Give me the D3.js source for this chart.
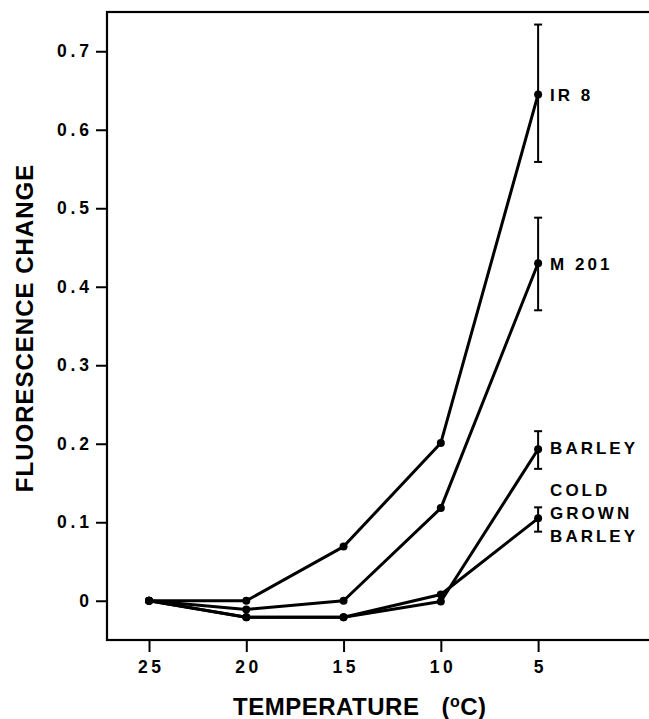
<!DOCTYPE html>
<html>
<head>
<meta charset="utf-8">
<script src="https://cdn.jsdelivr.net/npm/d3@7"></script>
<style>
  body { margin: 0; background: #fff; }
  svg { display: block; }
  text { font-family: "Liberation Sans", Arial, sans-serif; font-weight: bold; fill: #000; }
</style>
</head>
<body>
<svg id="chart" width="649" height="719"></svg>
<script>
/******************************************************************************/
/* data */

var temps = [25, 20, 15, 10, 5];
var xTicks = [25, 20, 15, 10, 5];
var yTicks = [0, 0.1, 0.2, 0.3, 0.4, 0.5, 0.6, 0.7];

var seriesNames = ['IR 8', 'M 201', 'BARLEY', 'COLD GROWN BARLEY'];
var ir8 = [0, 0, 0.069, 0.201, 0.645];
var m201 = [0, -0.011, 0, 0.118, 0.430];
var barley = [0, -0.021, -0.021, -0.001, 0.193];
var coldBarley = [0, -0.021, -0.021, 0.008, 0.105];

// error bars at 5 C: [low, high]
var errLow = [0.559, 0.370, 0.168, 0.088];
var errHigh = [0.734, 0.488, 0.216, 0.119];

// label lines next to the last point
var labelLines = [['IR 8'], ['M 201'], ['BARLEY'], ['COLD', 'GROWN', 'BARLEY']];

/******************************************************************************/

var svg = d3.select('#chart');
var pLeft = 107, pRight = 649, pTop = 12, pBottom = 640;

var x = d3.scaleLinear().domain([27.16, -0.7]).range([pLeft, pRight]);
var y = d3.scaleLinear().domain([-0.05, 0.75]).range([pBottom, pTop]);

var series = [ir8, m201, barley, coldBarley];

// frame
svg.append('rect')
  .attr('x', pLeft).attr('y', pTop)
  .attr('width', pRight - pLeft + 4).attr('height', pBottom - pTop)
  .style('fill', 'none').style('stroke', '#000').style('stroke-width', 2.2);

// y axis ticks
var yAxis = d3.axisLeft(y).tickValues(yTicks).tickSize(11).tickPadding(7)
  .tickFormat(function(d){ return d === 0 ? '0' : d3.format('.1f')(d); });
var gy = svg.append('g').attr('transform', 'translate(' + pLeft + ',0)').call(yAxis);
gy.select('.domain').remove();
gy.selectAll('line').style('stroke', '#000').style('stroke-width', 2);
gy.selectAll('text').style('font-size', '17.5px').style('letter-spacing', '3.8px')
  .attr('dx', '3.8px').style('font-family', '"Liberation Sans", Arial, sans-serif')
  .style('font-weight', 'bold');

// x axis ticks
var xAxis = d3.axisBottom(x).tickValues(xTicks).tickSize(12).tickPadding(9);
var gx = svg.append('g').attr('transform', 'translate(0,' + pBottom + ')').call(xAxis);
gx.select('.domain').remove();
gx.selectAll('line').style('stroke', '#000').style('stroke-width', 2);
gx.selectAll('text').style('font-size', '17.5px').style('letter-spacing', '3.5px')
  .attr('dx', '1.75px').style('font-family', '"Liberation Sans", Arial, sans-serif')
  .style('font-weight', 'bold');

// axis titles
svg.append('text')
  .attr('transform', 'translate(33,' + ((pTop + pBottom) / 2 + 2) + ') rotate(-90)')
  .attr('text-anchor', 'middle')
  .style('font-size', '24px').style('letter-spacing', '1px')
  .text('FLUORESCENCE CHANGE');

var xt = svg.append('text')
  .attr('x', 233).attr('y', 715)
  .style('font-size', '24px').style('letter-spacing', '0.5px');
xt.append('tspan').text('TEMPERATURE');
xt.append('tspan').attr('dx', 22).text('(');
xt.append('tspan').attr('dy', -8).style('font-size', '16px').text('o');
xt.append('tspan').attr('dy', 8).text('C)');

// lines
var line = d3.line()
  .x(function(d, i){ return x(temps[i]); })
  .y(function(d){ return y(d); });

svg.selectAll('.series').data(series).enter().append('path')
  .attr('class', 'series')
  .attr('d', line)
  .style('fill', 'none').style('stroke', '#000').style('stroke-width', 3)
  .style('stroke-linejoin', 'round');

// points
series.forEach(function(s){
  svg.selectAll(null).data(s).enter().append('circle')
    .attr('cx', function(d, i){ return x(temps[i]); })
    .attr('cy', function(d){ return y(d); })
    .attr('r', 4)
    .style('fill', '#000');
});

// error bars at last temperature
var xe = x(temps[temps.length - 1]);
var eb = svg.selectAll('.err').data(seriesNames).enter().append('g').attr('class', 'err');
eb.append('line')
  .attr('x1', xe).attr('x2', xe)
  .attr('y1', function(d, i){ return y(errLow[i]); })
  .attr('y2', function(d, i){ return y(errHigh[i]); });
eb.append('line')
  .attr('x1', xe - 4).attr('x2', xe + 4)
  .attr('y1', function(d, i){ return y(errLow[i]); })
  .attr('y2', function(d, i){ return y(errLow[i]); });
eb.append('line')
  .attr('x1', xe - 4).attr('x2', xe + 4)
  .attr('y1', function(d, i){ return y(errHigh[i]); })
  .attr('y2', function(d, i){ return y(errHigh[i]); });
eb.selectAll('line').style('stroke', '#000').style('stroke-width', 2);

// series labels
var labelOffset = [7, 7, 5, -22];
seriesNames.forEach(function(name, i){
  var last = series[i][series[i].length - 1];
  var t = svg.append('text')
    .attr('x', xe + 12)
    .attr('y', y(last) + labelOffset[i])
    .style('font-size', '17px').style('letter-spacing', '3px');
  labelLines[i].forEach(function(s, j){
    t.append('tspan').attr('x', xe + 12).attr('dy', j === 0 ? 0 : 23).text(s);
  });
});
</script>
</body>
</html>
